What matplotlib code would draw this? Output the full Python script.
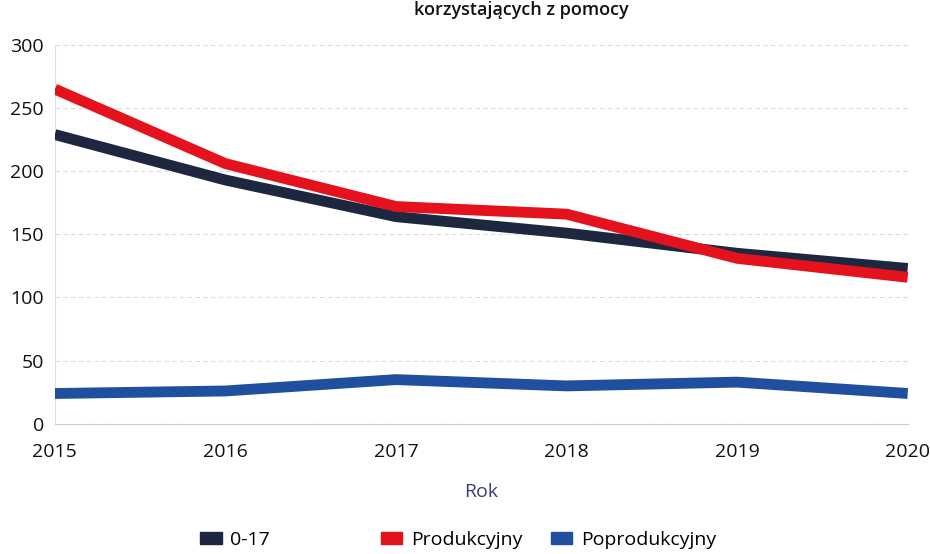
import matplotlib.pyplot as plt
from matplotlib.patches import Patch

plt.rcParams['font.family'] = ['Open Sans', 'DejaVu Sans']

years = [2015, 2016, 2017, 2018, 2019, 2020]
age_0_17 = [229, 193, 164, 151, 135, 123]
produkcyjny = [265, 206, 172, 166, 131, 116]
poprodukcyjny = [24, 26, 35, 30, 33, 24]

labels = ["0-17", "Produkcyjny", "Poprodukcyjny"]
colors = ["#1d2740", "#e3121c", "#1f4f9e"]

fig = plt.figure(figsize=(9.3, 5.54), dpi=100)
ax = fig.add_axes([0.059, 0.235, 0.917, 0.684])

ax.plot(years, age_0_17, color=colors[0], lw=7.8, solid_capstyle='butt', zorder=3)
ax.plot(years, produkcyjny, color=colors[1], lw=7.8, solid_capstyle='butt', zorder=4)
ax.plot(years, poprodukcyjny, color=colors[2], lw=7.8, solid_capstyle='butt', zorder=3)

ax.set_xlim(2015, 2020)
ax.set_ylim(0, 300)
ax.set_yticks(range(0, 301, 50))
ax.set_xticks(years)
ax.grid(axis='y', color='#d8dbe2', linestyle=(0, (4, 3)), lw=0.8)
ax.tick_params(length=0, labelsize=14, colors='#111111')
ax.tick_params(axis='x', pad=14)
ax.tick_params(axis='y', pad=8)

for s in ['top', 'right']:
    ax.spines[s].set_visible(False)
ax.spines['left'].set_color('#dde0e6')
ax.spines['bottom'].set_color('#c9cdd6')

ax.set_xlabel("Rok", fontsize=14, color='#3a3f7a', labelpad=16)

# title (cut off at the top edge in the scan)
fig.text(0.561, 0.998, "korzystających z pomocy", ha='center', va='top',
         fontsize=13, fontweight='semibold', color='#111111')

# legend entries with uneven spacing
xs = [0.207, 0.401, 0.584]
for lab, c, x in zip(labels, colors, xs):
    fig.legend(handles=[Patch(color=c, label=lab)], loc='center left',
               bbox_to_anchor=(x, 0.026), frameon=False, fontsize=14,
               handlelength=1.1, handleheight=0.55, handletextpad=0.45,
               borderaxespad=0)

fig.savefig("out.png", dpi=100)
